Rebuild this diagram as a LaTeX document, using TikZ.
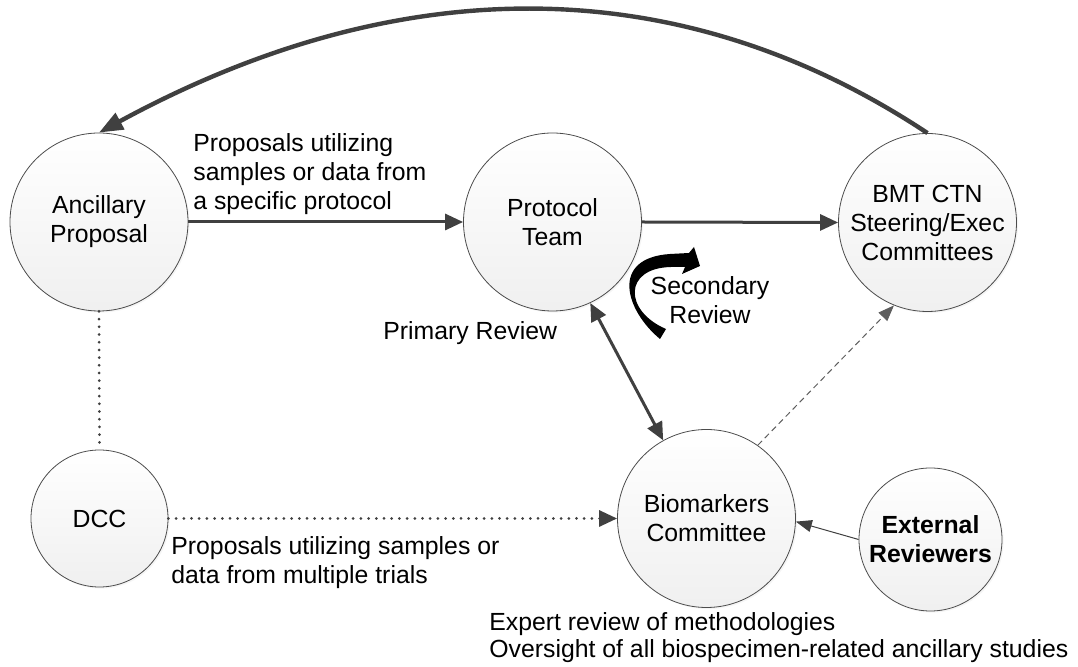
\documentclass[tikz,border=0pt]{standalone}
\usepackage{fontspec}
\setmainfont{Liberation Sans}
\usetikzlibrary{arrows.meta,shadows}
\definecolor{arr}{HTML}{404040}
\begin{document}
\begin{tikzpicture}[x=0.5pt,y=-0.5pt,
  circ/.style={circle, draw=black!70, line width=0.4pt, top color=white, bottom color=black!6,
    inner sep=0pt, align=center, font=\fontsize{12.4}{14.5}\selectfont,
    drop shadow={shadow xshift=0.8pt, shadow yshift=-0.8pt, opacity=0.08}},
  lbl/.style={align=left, font=\fontsize{12.4}{14.5}\selectfont, inner sep=0pt},
  thickarrow/.style={draw=arr, line width=1.5pt, -{Triangle[length=9pt,width=8pt]}},
  dotline/.style={draw=arr, line width=1.5pt, line cap=round, dash pattern=on 0pt off 3.85pt},
]
\useasboundingbox (0,0) rectangle (1078,667);

\node[circ, minimum size=89pt] (anc) at (99,222) {Ancillary\\Proposal};
\node[circ, minimum size=89pt] (prot) at (552.5,222) {Protocol\\Team};
\node[circ, minimum size=89pt] (bmt) at (927.5,222.5) {BMT CTN\\Steering/Exec\\Committees};
\node[circ, minimum size=68.5pt] (dcc) at (99.5,518.5) {DCC};
\node[circ, minimum size=89pt] (bio) at (706.5,518.5) {Biomarkers\\Committee};
\node[circ, minimum size=71.5pt, font=\fontsize{12.4}{14.5}\selectfont\bfseries] (ext) at (930.5,539.5) {External\\Reviewers};

\node[lbl, anchor=west] (l1) at (193,174) {Proposals utilizing\\samples or data from\\a specific protocol};
\node[lbl, anchor=west] (l2) at (171,563) {Proposals utilizing samples or\\data from multiple trials};
\node[lbl, anchor=west] (l3) at (489,624) {Expert review of methodologies};
\node[lbl, anchor=west] (l4) at (489,651) {Oversight of all biospecimen-related ancillary studies};
\node[lbl, anchor=west] (pri) at (383,333) {Primary Review};
\node[lbl, align=center] (sec) at (710,300) {Secondary\\Review};

\draw[thickarrow] (anc.east) -- (prot.west);
\draw[thickarrow] (prot.east) -- (bmt.west);
\draw[draw=arr, line width=2.2pt, -{Triangle[length=12pt,width=9pt]}]
  (bmt.north) .. controls (680,-31) and (400,-31) .. (anc.north);
\draw[draw=arr, line width=1.5pt, {Triangle[length=9pt,width=8pt]}-{Triangle[length=9pt,width=8pt]}]
  (prot.-65) -- (bio.119);
\draw[draw=arr!85, line width=0.5pt, dash pattern=on 3pt off 2pt, -{Triangle[length=8pt,width=6pt]}]
  (bio.55) -- (bmt.248);
\draw[draw=arr, line width=0.5pt, -{Triangle[length=8pt,width=6pt]}] (ext.180) -- (bio.-2.5);
\draw[dotline, -{Triangle[length=9pt,width=8pt]}] (dcc.east) -- (bio.west);
\draw[dotline] (anc.south) -- (dcc.north);

\fill[black] (660,339) .. controls (625,310) and (610,258) .. (670,254) -- (689,253) -- (694,247)
  -- (700,266) -- (682,274) -- (685,267) -- (671,267)
  .. controls (623,268) and (624,311) .. (666,329) -- cycle;
\end{tikzpicture}
\end{document}
